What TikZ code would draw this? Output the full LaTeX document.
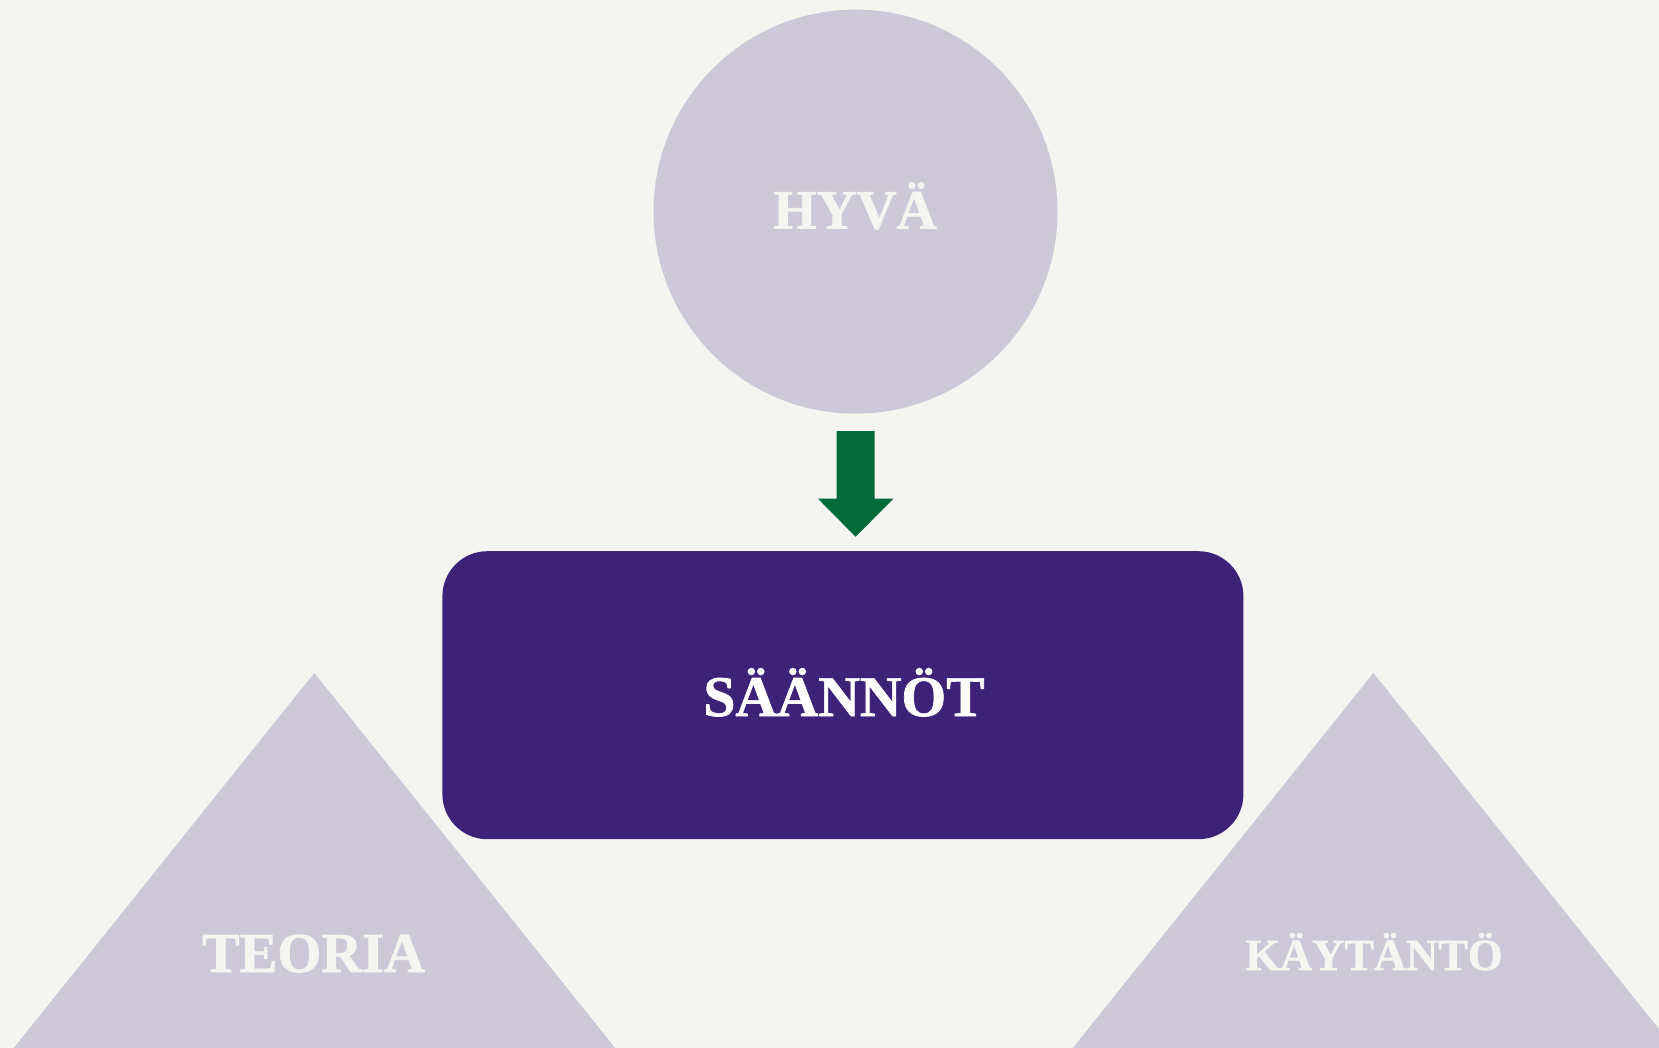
\documentclass[tikz,border=0pt]{standalone}
\usepackage{fontspec}
\newfontfamily\lbf{Liberation Serif Bold}[FakeBold=1.2]
\definecolor{bgc}{HTML}{F4F4F0}
\definecolor{lav}{HTML}{CCC8D8}
\definecolor{deep}{HTML}{3D2278}
\definecolor{grn}{HTML}{036A3A}
\definecolor{pale}{HTML}{F4F4F0}
\begin{document}
\begin{tikzpicture}[x=1pt,y=-1pt,
  lbl/.style={inner sep=0pt,anchor=base},
  shapefill/.style={fill=lav,draw=none}]
\useasboundingbox (0,0) rectangle (1659,1048);
\fill[bgc] (0,0) rectangle (1659,1048);
\begin{scope}
\clip (0,0) rectangle (1659,1048);
% triangles
\fill[lav] (314.3,673) -- (-60,1140) -- (689,1140) -- cycle;
\fill[lav] (1373.4,673) -- (999,1140) -- (1748,1140) -- cycle;
\end{scope}
% circle
\node[circle,shapefill,minimum size=404pt,inner sep=0pt] (hyva) at (855.5,211.6) {};
% rectangle
\node[draw=none,fill=deep,rounded corners=45pt,minimum width=801pt,minimum height=288pt,inner sep=0pt] (saannot) at (842.9,695.2) {};
% arrow
\fill[grn] (836.7,431) -- (874.5,431) -- (874.5,498.5) -- (893.5,498.5) -- (855.6,536.8) -- (817.8,498.5) -- (836.7,498.5) -- cycle;
% labels
\node[lbl,text=pale,font=\lbf\fontsize{55.5}{60}\selectfont] (thyva) at (855,228.5) {HYVÄ};
\node[lbl,text=white,font=\lbf\fontsize{57.5}{60}\selectfont] (tsaan) at (844,716) {SÄÄNNÖT};
\node[lbl,text=pale,font=\lbf\fontsize{56.5}{60}\selectfont] (tteo) at (313.5,972) {TEORIA};
\node[lbl,text=pale,font=\lbf\fontsize{44.5}{50}\selectfont] (tkay) at (1374,970) {KÄYTÄNTÖ};
\end{tikzpicture}
\end{document}
